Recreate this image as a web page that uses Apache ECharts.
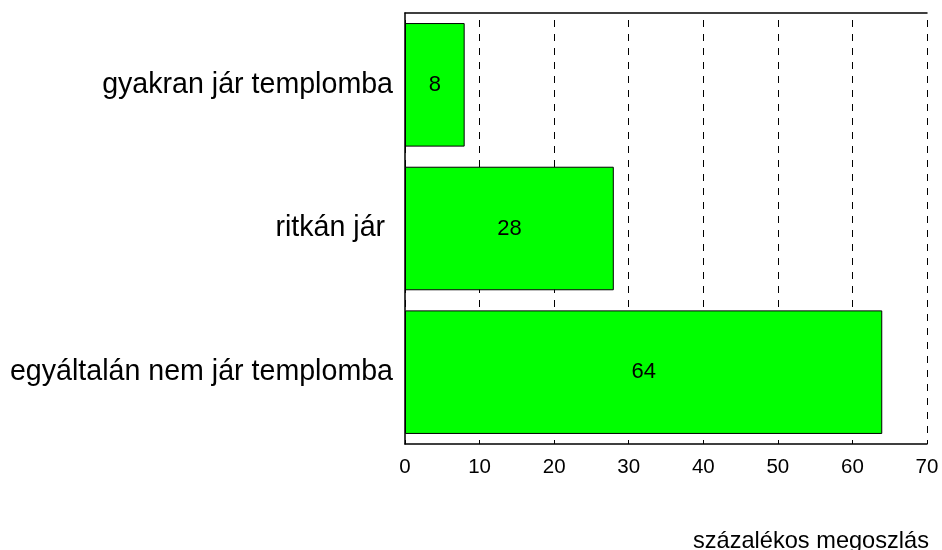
<!DOCTYPE html>
<html>
<head>
<meta charset="utf-8">
<script src="https://cdn.jsdelivr.net/npm/echarts@6/dist/echarts.min.js"></script>
<style>
  html, body { margin: 0; padding: 0; background: #fff; }
  #chart { width: 942px; height: 550px; }
</style>
</head>
<body>
<div id="chart"></div>
<script>
// Templomba járás gyakorisága (százalékos megoszlás)
const categories = ['gyakran jár templomba', 'ritkán jár ', 'egyáltalán nem jár templomba'];
const values = [8, 28, 64];
const axisMin = 0;
const axisMax = 70;
const axisStep = 10;
const axisTitle = 'százalékos megoszlás';

const FONT = '"Liberation Sans", Arial, Helvetica, sans-serif';

const chart = echarts.init(document.getElementById('chart'), null, { renderer: 'canvas' });

chart.setOption({
  backgroundColor: '#ffffff',
  animation: false,
  grid: { left: 405, right: 15, top: 13, bottom: 106, containLabel: false },
  xAxis: [
    {
      type: 'value',
      position: 'bottom',
      min: axisMin,
      max: axisMax,
      interval: axisStep,
      axisLine: { show: true, onZero: false, lineStyle: { color: '#000', width: 1.5 } },
      axisTick: { show: false },
      axisLabel: { color: '#000', fontSize: 20.5, fontFamily: FONT, margin: 13 },
      splitLine: { show: true, lineStyle: { color: '#000', width: 1, type: [7, 7], dashOffset: 7 } }
    },
    {
      // top frame line
      type: 'value',
      position: 'top',
      min: axisMin,
      max: axisMax,
      interval: axisStep,
      axisLine: { show: true, onZero: false, lineStyle: { color: '#000', width: 1.5 } },
      axisTick: { show: false },
      axisLabel: { show: false },
      splitLine: { show: false }
    }
  ],
  yAxis: {
    type: 'category',
    data: categories,
    inverse: true,
    axisLine: { show: true, onZero: false, lineStyle: { color: '#000', width: 1.5 } },
    axisTick: { show: false },
    axisLabel: { color: '#000', fontSize: 28.6, fontFamily: FONT, margin: 12 },
    splitLine: { show: false }
  },
  series: [{
    type: 'bar',
    data: values,
    barCategoryGap: '14%',
    itemStyle: { color: '#00ff00', borderColor: '#000', borderWidth: 1 },
    label: {
      show: true,
      position: 'inside',
      color: '#000',
      fontSize: 22,
      fontFamily: FONT
    }
  }],
  graphic: [{
    type: 'text',
    right: 13,
    top: 529,
    style: {
      text: axisTitle,
      fill: '#000',
      font: '23.6px ' + FONT
    }
  }]
});
</script>
</body>
</html>
